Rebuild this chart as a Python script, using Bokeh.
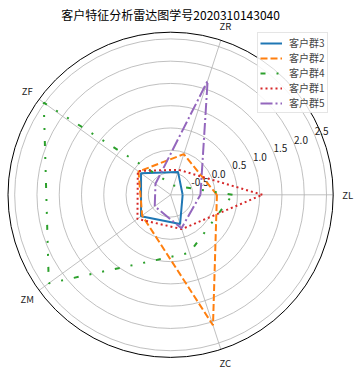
import numpy as np
from bokeh.plotting import figure
from bokeh.models import Range1d, Legend, LegendItem
from bokeh.embed import file_html
from bokeh.resources import INLINE
from bokeh.core.properties import value

title = "客户特征分析雷达图学号2020310143040"
features = ["ZL", "ZR", "ZF", "ZM", "ZC"]
groups = ["客户群3", "客户群2", "客户群4", "客户群1", "客户群5"]
g3 = [-0.73, -0.46, -0.18, -0.18, -0.31]
g2 = [0.04, -0.04, -0.11, -0.21, 2.08]
g4 = [0.39, -0.78, 2.52, 2.38, 0.37]
g1 = [1.06, -0.41, -0.09, -0.08, -0.19]
g5 = [-0.33, 1.69, -0.58, -0.56, -0.21]
series = [g3, g2, g4, g1, g5]
r_ticks = [-0.5, 0.0, 0.5, 1.0, 1.5, 2.0, 2.5]
r_min, r_max = -1.0, 2.65

colors = ["#1f77b4", "#ff7f0e", "#2ca02c", "#d62728", "#9467bd"]
dashes = ["solid", "7 3", "5 11 2 11 2 11", "2 3", "12 3 2 3"]

W, H = 359, 374
cx, cy = 170.1, H - 194.3
R = 162.6
scale = R / (r_max - r_min)
FONT = "Noto Sans CJK SC"

angles = np.linspace(0, 2 * np.pi, len(features), endpoint=False)


def to_xy(r, th):
    rp = (np.asarray(r, dtype=float) - r_min) * scale
    return rp * np.cos(th), rp * np.sin(th)


p = figure(width=W, height=H, output_backend="svg", toolbar_location=None,
           x_range=Range1d(-cx, W - cx), y_range=Range1d(-cy, H - cy),
           min_border=0)
p.axis.visible = False
p.grid.visible = False
p.outline_line_color = None
p.background_fill_color = "white"

# circular grid
for t in r_ticks:
    p.circle(x=[0], y=[0], radius=(t - r_min) * scale, fill_color=None,
             line_color="#b0b0b0", line_width=0.8)
# spokes
ex, ey = to_xy([r_max] * len(features), angles)
p.segment(x0=[0] * len(features), y0=[0] * len(features), x1=ex, y1=ey,
          line_color="#b0b0b0", line_width=0.8)
# outer spine
p.circle(x=[0], y=[0], radius=R, fill_color=None, line_color="black", line_width=1)

# feature labels
lr = R + 14.5
p.text(x=lr * np.cos(angles), y=lr * np.sin(angles), text=features,
       text_font=value(FONT), text_font_size="9.5px", text_color="#222222",
       text_align="center", text_baseline="middle")

# radial tick labels
la = np.deg2rad(22.5)
tx, ty = to_xy(r_ticks, la)
p.text(x=tx, y=ty, text=[f"{t:.1f}" for t in r_ticks],
       text_font=value(FONT), text_font_size="10px", text_color="#222222",
       text_align="left", text_baseline="bottom")

items = []
for name, vals, c, d in zip(groups, series, colors, dashes):
    x, y = to_xy(vals + vals[:1], np.append(angles, angles[0]))
    r = p.line(x, y, line_color=c, line_width=2, line_dash=d)
    items.append(LegendItem(label=name, renderers=[r]))

# title
p.text(x=[0], y=[H - cy - 14], text=[title], text_font=value(FONT),
       text_font_size="12px", text_color="black", text_align="center",
       text_baseline="middle")

legend = Legend(items=items, location=(257, 261),
                label_text_font=FONT, label_text_font_size="10px",
                glyph_width=22, glyph_height=10, label_height=10,
                spacing=0, padding=2, label_standoff=7, margin=0,
                border_line_color="#cccccc", border_line_width=1,
                background_fill_alpha=0.85)
p.add_layout(legend)

open("out.html", "w").write(file_html(p, INLINE))
